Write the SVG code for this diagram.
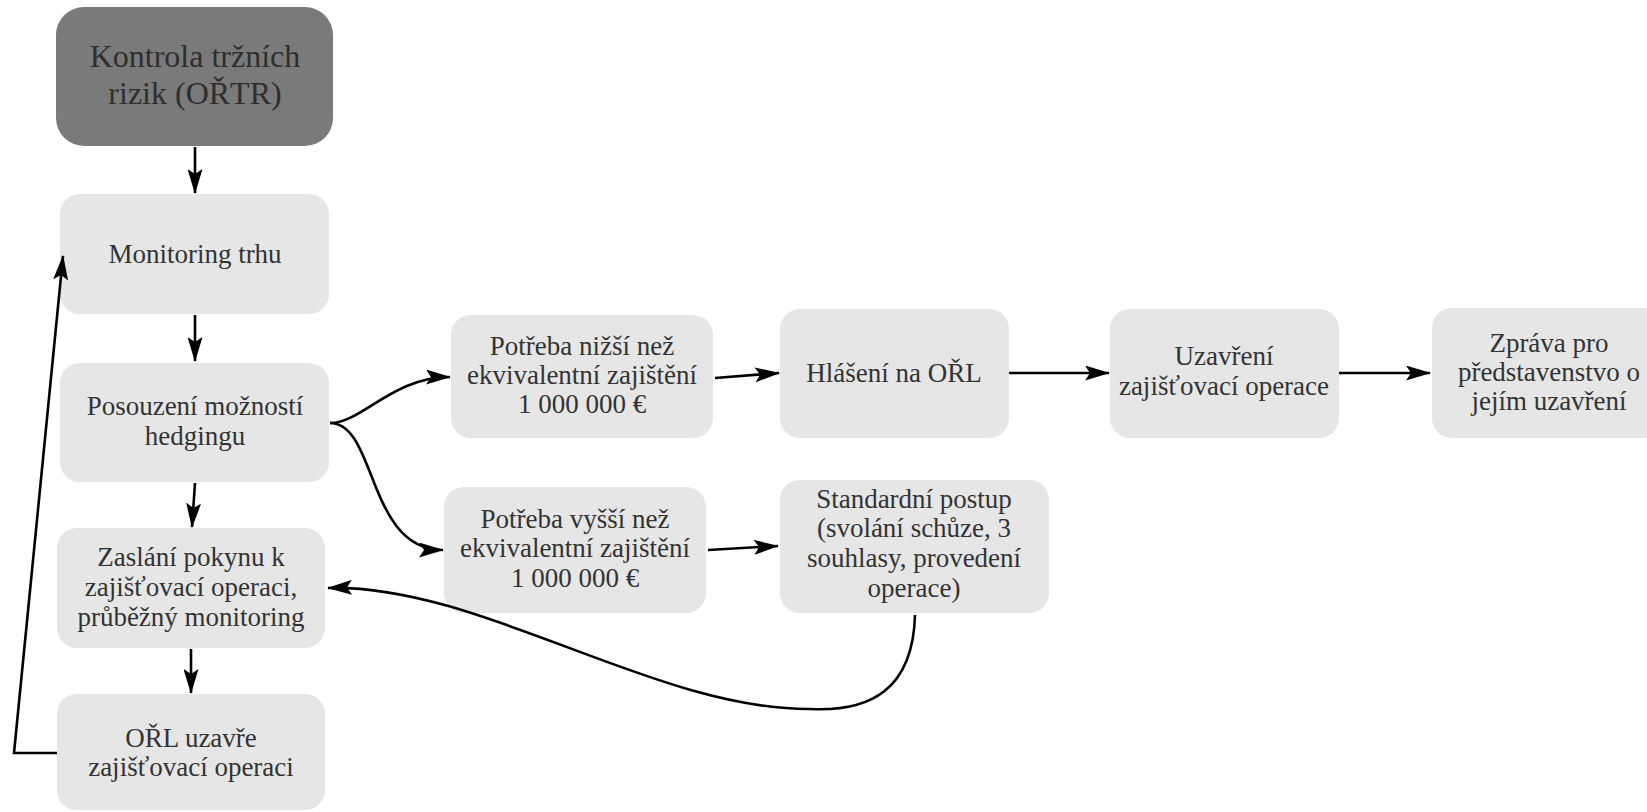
<svg xmlns="http://www.w3.org/2000/svg" width="1647" height="812" viewBox="0 0 1647 812">
<style>
.n rect{fill:#e6e6e6;}
.top rect{fill:#7a7a7a;}
text{font-family:"Liberation Serif","Times New Roman",serif;font-size:27px;fill:#333333;text-anchor:middle;}
.top text{font-size:32px;fill:#2e2e2e;}
.c path{fill:none;stroke:#000;stroke-width:2.6;marker-end:url(#ah);}
</style>
<defs>
<marker id="ah" markerWidth="25" markerHeight="15" refX="24" refY="7.5" orient="auto" markerUnits="userSpaceOnUse">
<path d="M0,0 L25,7.5 L0,15 L5,7.5 z" fill="#000"/>
</marker>
</defs>
<rect width="1647" height="812" fill="#ffffff"/>
<g id="n1" class="top"><rect x="56" y="7" width="277" height="139" rx="28"/><text x="195" y="67">Kontrola tržních</text><text x="195" y="104">rizik (OŘTR)</text></g>
<g id="n2" class="n"><rect x="60" y="194" width="269" height="120" rx="20"/><text x="195" y="263">Monitoring trhu</text></g>
<g id="n3" class="n"><rect x="60" y="363" width="269" height="119" rx="20"/><text x="195" y="415">Posouzení možností</text><text x="195" y="445">hedgingu</text></g>
<g id="n4" class="n"><rect x="57" y="528" width="268" height="120" rx="20"/><text x="191" y="566">Zaslání pokynu k</text><text x="191" y="596">zajišťovací operaci,</text><text x="191" y="626">průběžný monitoring</text></g>
<g id="n5" class="n"><rect x="57" y="694" width="268" height="116" rx="20"/><text x="191" y="747">OŘL uzavře</text><text x="191" y="776">zajišťovací operaci</text></g>
<g id="n6" class="n"><rect x="451" y="315" width="262" height="123" rx="20"/><text x="582" y="355">Potřeba nižší než</text><text x="582" y="384">ekvivalentní zajištění</text><text x="582" y="413">1 000 000 €</text></g>
<g id="n7" class="n"><rect x="780" y="309" width="229" height="129" rx="20"/><text x="894" y="382">Hlášení na OŘL</text></g>
<g id="n8" class="n"><rect x="1110" y="309" width="229" height="129" rx="20"/><text x="1224" y="365">Uzavření</text><text x="1224" y="395">zajišťovací operace</text></g>
<g id="n9" class="n"><rect x="1432" y="308" width="236" height="130" rx="20"/><text x="1549" y="352">Zpráva pro</text><text x="1549" y="381">představenstvo o</text><text x="1549" y="410">jejím uzavření</text></g>
<g id="n10" class="n"><rect x="444" y="487" width="262" height="126" rx="20"/><text x="575" y="528">Potřeba vyšší než</text><text x="575" y="557">ekvivalentní zajištění</text><text x="575" y="587">1 000 000 €</text></g>
<g id="n11" class="n"><rect x="780" y="480" width="269" height="133" rx="20"/><text x="914" y="508">Standardní postup</text><text x="914" y="537">(svolání schůze, 3</text><text x="914" y="567">souhlasy, provedení</text><text x="914" y="597">operace)</text></g>
<g class="c" id="connectors">
<path d="M195,147 L195,193"/>
<path d="M195,315 L195,361"/>
<path d="M195,483 L192,527"/>
<path d="M191,649 L191,693"/>
<path d="M57,753 L14,753 L63,256"/>
<path d="M330,423 C362,423 392,377 450,377"/>
<path d="M330,423 C377,423 367,550 443,550"/>
<path d="M715,378 L779,373"/>
<path d="M1009,373 L1109,373"/>
<path d="M1339,373 L1430,373"/>
<path d="M708,550 L778,546"/>
<path d="M915,615 C913,690 870,712 810,709 C655,710 480,584 328,588"/>
</g>
</svg>
